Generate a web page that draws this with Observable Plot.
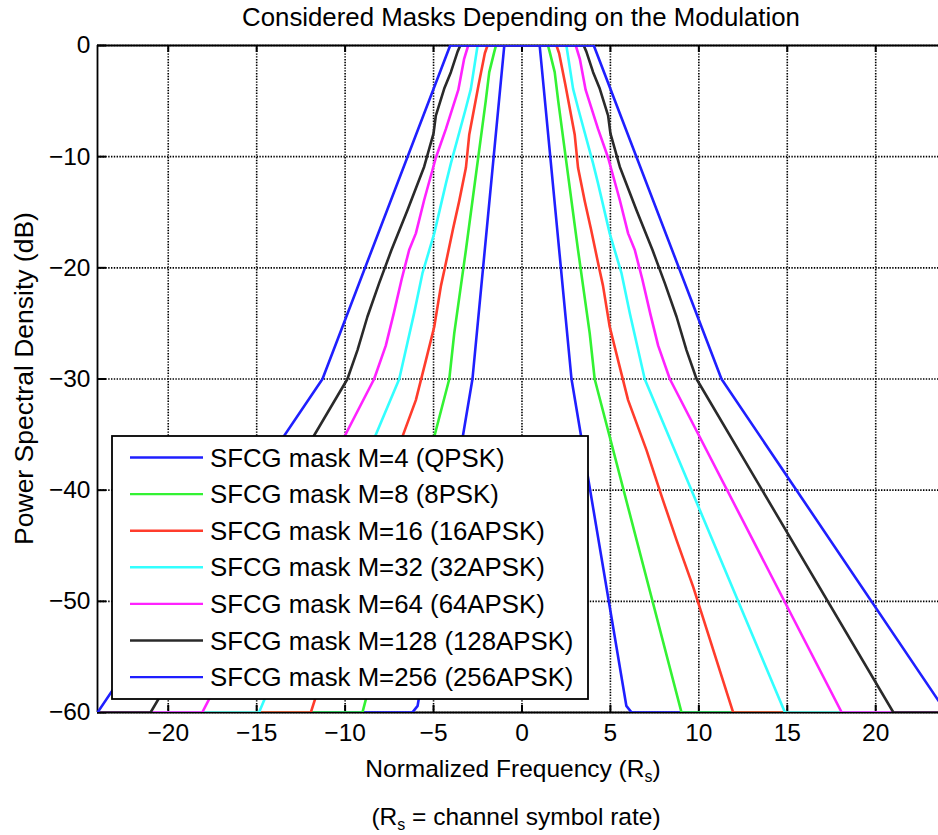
<!DOCTYPE html>
<html><head><meta charset="utf-8">
<script src="https://cdn.jsdelivr.net/npm/d3@7"></script>
<script src="https://cdn.jsdelivr.net/npm/@observablehq/plot@0.6"></script>
<style>
html,body{margin:0;padding:0;background:#fff;overflow:hidden}
#chart{position:relative;width:938px;height:835px}
</style></head><body><div id="chart"></div>
<script>
// ---- text ----
const titleText = "Considered Masks Depending on the Modulation";
const yLabelText = "Power Spectral Density (dB)";
const xLabelMain = "Normalized Frequency (R";
const captionMain = "(R";
const captionRest = " = channel symbol rate)";
const seriesNames = [
  "SFCG mask M=4 (QPSK)",
  "SFCG mask M=8 (8PSK)",
  "SFCG mask M=16 (16APSK)",
  "SFCG mask M=32 (32APSK)",
  "SFCG mask M=64 (64APSK)",
  "SFCG mask M=128 (128APSK)",
  "SFCG mask M=256 (256APSK)"
];
const seriesColors = ["#1f1fff", "#33f233", "#ff3c2c", "#33ffff", "#ff22ff", "#2a2a2a", "#1f1fff"];

// ---- axes ----
const xTicks = [-20, -15, -10, -5, 0, 5, 10, 15, 20];
const yTicks = [0, -10, -20, -30, -40, -50, -60];
const xDomain = [-24, 23.55];
const yDomain = [-60, 0];
const maskEdge = 24;     // frequency where every mask meets the -60 dB floor (plot edge)
const floorDb = -60;

// ---- mask break points (positive-frequency half, masks are symmetric) ----
const m4Freq  = [1.0, 2.8, 5.9, 6.2];
const m4Db    = [0, -30, -59.4, -60];
const m8Freq  = [1.47, 1.57, 1.85, 2.05, 3.17, 3.83, 4.11, 9.02];
const m8Db    = [0, -0.6, -2.4, -5, -18.4, -25.9, -30, -60];
const m16Freq = [1.95, 2.1, 2.45, 2.98, 3.17, 3.55, 3.9, 4.36, 4.58, 4.96, 5.43, 6.0, 7.04, 7.95, 8.74, 9.68, 11.94];
const m16Db   = [0, -0.7, -3.5, -8, -11, -14, -16.5, -20, -21.6, -25.3, -28.3, -31.9, -36.4, -40.8, -44.5, -48.7, -60];
const m32Freq = [2.51, 2.89, 3.2, 4.02, 4.3, 4.96, 5.63, 6.1, 6.94, 14.87];
const m32Db   = [0, -3.9, -5.8, -10.6, -12.4, -16.9, -20.5, -24.1, -30, -60];
const m64Freq = [3.04, 3.27, 3.6, 4.3, 4.87, 5.53, 6.0, 6.38, 6.8, 7.25, 7.7, 8.36, 18.08];
const m64Db   = [0, -1.2, -4, -7.5, -10.1, -13.9, -16.9, -18.4, -21, -24.1, -27, -30, -60];
const m128Freq = [3.49, 3.64, 4.02, 4.4, 4.87, 5.0, 5.53, 6.47, 7.38, 8.08, 8.74, 9.3, 9.87, 21.0];
const m128Db   = [0, -0.55, -2.4, -3.9, -6.3, -7.9, -10.9, -14.8, -18.4, -21.4, -24.4, -27.4, -30, -60];
const m256Freq = [4.06, 11.28, 24];
const m256Db   = [0, -30, -60];

const halves = [
  [m4Freq, m4Db], [m8Freq, m8Db], [m16Freq, m16Db], [m32Freq, m32Db],
  [m64Freq, m64Db], [m128Freq, m128Db], [m256Freq, m256Db]
];

function buildCurve(name, f, db) {
  const right = f.map((x, i) => ({name, freq: x, db: db[i]}));
  const left = right.map(d => ({name, freq: -d.freq, db: d.db})).reverse();
  return [{name, freq: -maskEdge, db: floorDb}, ...left, ...right, {name, freq: maskEdge, db: floorDb}];
}
const curves = halves.flatMap(([f, db], i) => buildCurve(seriesNames[i], f, db));

const font = "'Liberation Sans', Arial, Helvetica, sans-serif";
const gridStyle = {stroke: "#000", strokeOpacity: 1, strokeWidth: 1.6, strokeDasharray: "1.4,1.4"};
const tickStyle = {stroke: "#000", strokeWidth: 2};

const plot = Plot.plot({
  width: 938, height: 835,
  marginLeft: 97, marginRight: 0, marginTop: 45, marginBottom: 123,
  style: {fontFamily: font, fontSize: "24px", color: "#000", background: "#fff", overflow: "visible"},
  x: {domain: xDomain},
  y: {domain: yDomain},
  color: {domain: seriesNames, range: seriesColors},
  marks: [
    Plot.gridX(xTicks, gridStyle),
    Plot.gridY(yTicks, gridStyle),
    Plot.axisX(xTicks, {tickSize: 0, tickPadding: 11, label: null, fontSize: 24.5}),
    Plot.axisY(yTicks, {tickSize: 0, tickPadding: 7, label: null, fontSize: 24.5}),
    // inward tick marks (bottom, top, left)
    Plot.ruleX(xTicks, {x: d => d, y1: yDomain[0], y2: yDomain[0], insetBottom: 7, ...tickStyle}),
    Plot.ruleX(xTicks, {x: d => d, y1: yDomain[1], y2: yDomain[1], insetBottom: -7, ...tickStyle}),
    Plot.ruleY(yTicks, {y: d => d, x1: xDomain[0], x2: xDomain[0], insetRight: -9, ...tickStyle}),
    // axes box (right edge lies beyond the picture)
    Plot.ruleY(yDomain, {stroke: "#000", strokeWidth: 1.8}),
    Plot.ruleX([xDomain[0]], {stroke: "#000", strokeWidth: 1.8}),
    Plot.line(curves, {x: "freq", y: "db", z: "name", stroke: "name", strokeWidth: 2.6, strokeLinejoin: "round", clip: true})
  ]
});
document.getElementById("chart").append(plot);

// ---- titles, labels, legend drawn into the same SVG ----
const svg = d3.select(plot);
const xs = plot.scale("x"), ys = plot.scale("y");
const cx = (xs.range[0] + 945) / 2;

svg.append("text").attr("x", cx).attr("y", 26).attr("text-anchor", "middle")
  .attr("font-family", font).attr("font-size", 25.8).attr("fill", "#000").text(titleText);

const xl = svg.append("text").attr("x", cx - 8).attr("y", 777).attr("text-anchor", "middle")
  .attr("font-family", font).attr("font-size", 24.5).attr("fill", "#000");
xl.append("tspan").text(xLabelMain);
xl.append("tspan").attr("font-size", 16).attr("dy", 5).text("s");
xl.append("tspan").attr("dy", -5).text(")");

const cap = svg.append("text").attr("x", cx - 5).attr("y", 825).attr("text-anchor", "middle")
  .attr("font-family", font).attr("font-size", 24.5).attr("fill", "#000");
cap.append("tspan").text(captionMain);
cap.append("tspan").attr("font-size", 16).attr("dy", 5).text("s");
cap.append("tspan").attr("dy", -5).text(captionRest);

svg.append("text").attr("transform", `translate(33,${(ys.range[0] + ys.range[1]) / 2}) rotate(-90)`)
  .attr("text-anchor", "middle").attr("font-family", font).attr("font-size", 26.5).attr("fill", "#000")
  .text(yLabelText);

// legend
const lg = svg.append("g").attr("text-anchor", "start");
const lgX = 112, lgY = 436, lgW = 476, lgH = 263, rowStep = 36.6, row0 = 457.5;
lg.append("rect").attr("x", lgX).attr("y", lgY).attr("width", lgW).attr("height", lgH)
  .attr("fill", "#fff").attr("stroke", "#000").attr("stroke-width", 1.8);
seriesNames.forEach((name, i) => {
  const yy = row0 + i * rowStep;
  lg.append("line").attr("x1", 130).attr("x2", 203).attr("y1", yy).attr("y2", yy)
    .attr("stroke", seriesColors[i]).attr("stroke-width", 2.4);
  lg.append("text").attr("x", 210).attr("y", yy + 9).attr("text-anchor", "start").attr("font-family", font)
    .attr("font-size", 25.8).attr("fill", "#000").text(name);
});
</script></body></html>
